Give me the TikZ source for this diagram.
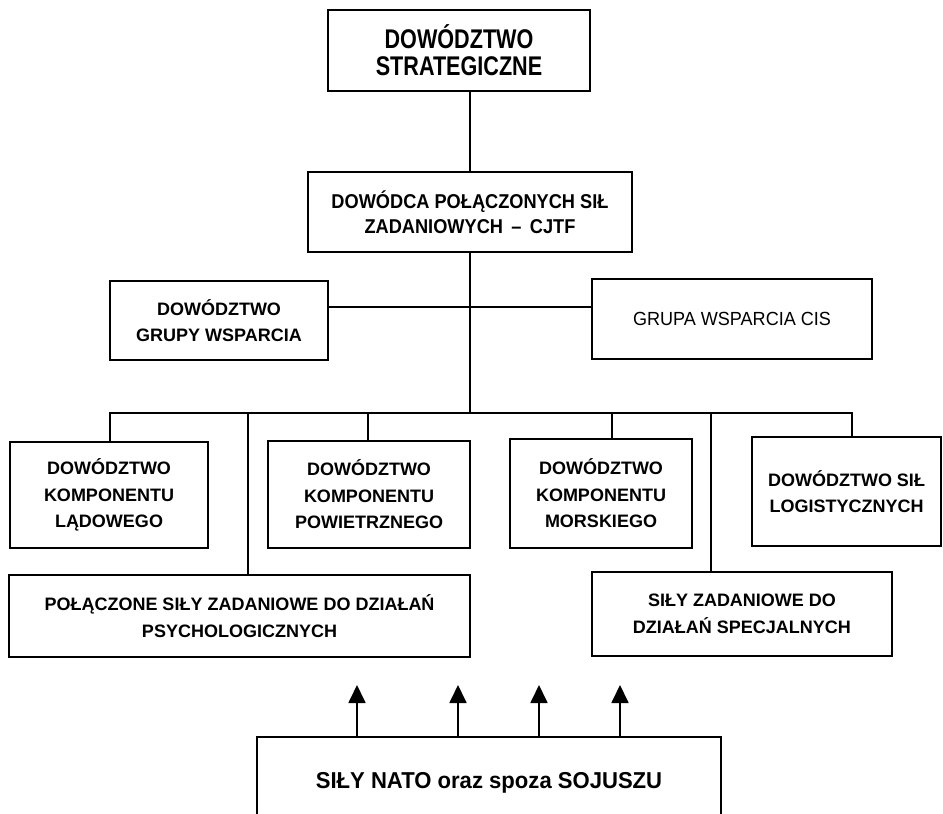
\documentclass[tikz,border=0pt]{standalone}
\usepackage{fontspec}
\setmainfont{Liberation Sans}
\newfontfamily\fontTop[FakeStretch=0.8]{Liberation Sans}
\newfontfamily\fontCjtf[FakeStretch=0.91]{Liberation Sans}
\newfontfamily\fontCis[FakeStretch=0.95]{Liberation Sans}
\newfontfamily\fontNato[FakeStretch=0.96]{Liberation Sans}
\usetikzlibrary{arrows.meta}

\begin{document}
\begin{tikzpicture}[x=1pt,y=-1pt,
  box/.style={draw=black, line width=1.8pt, rectangle, align=center,
              inner sep=0pt, fill=white},
  rowbox/.style={box, font=\bfseries\fontsize{18pt}{26.5pt}\selectfont},
  link/.style={draw=black, line width=1.8pt, line join=miter},
  feed/.style={link, -{Triangle[length=18pt,width=17pt]}},
]
\useasboundingbox (0,0) rectangle (943,814);

% command levels
\node[box, minimum width=262pt, minimum height=81pt,
      font=\fontTop\bfseries\fontsize{27pt}{26.7pt}\selectfont]
      (strat) at (459,50.5) {DOWÓDZTWO\\STRATEGICZNE};
\node[box, minimum width=324pt, minimum height=80pt,
      font=\fontCjtf\bfseries\fontsize{20pt}{25pt}\selectfont]
      (cjtf) at (470,212) {DOWÓDCA POŁĄCZONYCH SIŁ\\ZADANIOWYCH \,–\, CJTF};

% support elements
\node[rowbox, minimum width=218pt, minimum height=79pt]
      (grupa) at (219,320.5) {DOWÓDZTWO\\GRUPY WSPARCIA};
\node[box, minimum width=280pt, minimum height=80pt,
      font=\fontCis\fontsize{19pt}{25pt}\selectfont]
      (cis) at (732,319) {GRUPA WSPARCIA CIS};

% component commands
\node[rowbox, minimum width=198pt, minimum height=106pt]
      (lad) at (109,495) {DOWÓDZTWO\\KOMPONENTU\\LĄDOWEGO};
\node[rowbox, minimum width=202pt, minimum height=107pt]
      (pow) at (369,494.5) {DOWÓDZTWO\\KOMPONENTU\\POWIETRZNEGO};
\node[rowbox, minimum width=182pt, minimum height=109pt]
      (mor) at (601,493.5) {DOWÓDZTWO\\KOMPONENTU\\MORSKIEGO};
\node[rowbox, minimum width=189pt, minimum height=109pt]
      (log) at (846.5,491.5) {DOWÓDZTWO SIŁ\\LOGISTYCZNYCH};

% special task forces
\node[rowbox, minimum width=461pt, minimum height=82pt]
      (psy) at (239.5,616) {POŁĄCZONE SIŁY ZADANIOWE DO DZIAŁAŃ\\PSYCHOLOGICZNYCH};
\node[rowbox, minimum width=300pt, minimum height=84pt]
      (spec) at (742,614) {SIŁY ZADANIOWE DO\\DZIAŁAŃ SPECJALNYCH};

% contributing forces
\node[box, minimum width=464pt, minimum height=102pt,
      text height=12pt, text depth=12pt,
      font=\fontNato\bfseries\fontsize{23pt}{26pt}\selectfont]
      (nato) at (489,788) {SIŁY NATO oraz spoza SOJUSZU};

% junction points
\coordinate (bus)  at (470,413);
\coordinate (side) at (470,307);
\coordinate (dLad) at (110,413);
\coordinate (dPsy) at (248,413);
\coordinate (dPow) at (368,413);
\coordinate (dMor) at (612,413);
\coordinate (dSpec) at (711,413);
\coordinate (dLog) at (852,413);
\coordinate (tip1) at (357,685);
\coordinate (tip2) at (458,685);
\coordinate (tip3) at (539,685);
\coordinate (tip4) at (620,685);

% connectors
\draw[link] (strat.south -| cjtf.north) -- (cjtf.north);
\draw[link] (cjtf.south) -- (bus);
\draw[link] (side -| grupa.east) -- (side -| cis.west);
\draw[link] (dLad |- lad.north) -- (dLad) -- (dLog) -- (dLog |- log.north);
\draw[link] (dPow) -- (dPow |- pow.north);
\draw[link] (dMor) -- (dMor |- mor.north);
\draw[link] (dPsy) -- (dPsy |- psy.north);
\draw[link] (dSpec) -- (dSpec |- spec.north);

% inputs from allied and partner forces
\draw[feed] (tip1 |- nato.north) -- (tip1);
\draw[feed] (tip2 |- nato.north) -- (tip2);
\draw[feed] (tip3 |- nato.north) -- (tip3);
\draw[feed] (tip4 |- nato.north) -- (tip4);
\end{tikzpicture}
\end{document}
